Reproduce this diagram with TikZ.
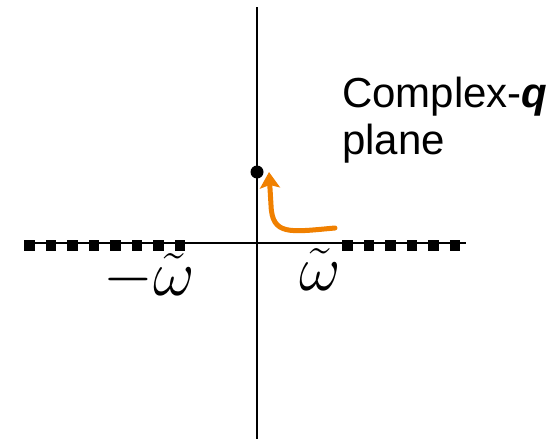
\RequirePackage{fix-cm}
\documentclass[tikz,border=0pt]{standalone}
\usepackage{fontspec}
\setmainfont{Liberation Sans}
\usetikzlibrary{arrows.meta}
\definecolor{pathorange}{RGB}{240,128,0}

\begin{document}
\begin{tikzpicture}[
        x=1pt, y=1pt,
        axis/.style={line width=2.5pt, black},
        cut/.style={fill=black},
        route/.style={line width=5pt, pathorange, line cap=round, -{Stealth[length=16pt, width=20pt, inset=3pt]}},
        lbl/.style={font=\fontsize{42}{50}\selectfont, inner sep=0pt},
        freq/.style={font=\fontsize{64}{70}\selectfont, inner sep=0pt},
    ]
    \useasboundingbox (0,0) rectangle (559,-439);

    % Axes
    \coordinate (west) at (24,-243);
    \coordinate (east) at (466,-243);
    \coordinate (north) at (257,-7);
    \coordinate (south) at (257,-439);
    \draw[axis] (west) -- (east);
    \draw[axis] (north) -- (south);

    % Branch cuts
    \foreach \i in {0,...,7}
        \fill[cut] (24+21.5*\i,-239.5) rectangle ++(10.75,-11);
    \foreach \i in {0,...,5}
        \fill[cut] (342+21.5*\i,-239.5) rectangle ++(10.75,-11);

    % Pole and contour
    \node[circle, fill=black, inner sep=0pt, minimum size=13pt] (pole) at (257,-172) {};
    \coordinate (start) at (335,-228);
    \coordinate (tip) at (269,-172);
    \draw[route] (start) .. controls (290,-232) and (272,-236) .. (271,-205) -- (tip);

    % Labels
    \node[lbl, anchor=base west] (cplx) at (342,-107) {Complex-\textbf{\textit{q}}};
    \node[lbl, anchor=base west] (plane) at (342,-154) {plane};
    \node[freq, anchor=base] (negw) at (149,-295) {$-\tilde{\omega}$};
    \node[freq, anchor=base] (posw) at (320,-290) {$\tilde{\omega}$};
\end{tikzpicture}
\end{document}
